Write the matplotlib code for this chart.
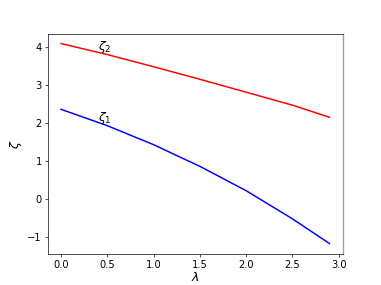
import matplotlib
matplotlib.use("Agg")
import matplotlib.pyplot as plt

lam = [0.0, 0.5, 1.0, 1.5, 2.0, 2.5, 2.9]
zeta1 = [2.35, 1.92, 1.42, 0.85, 0.21, -0.53, -1.18]
zeta2 = [4.08, 3.79, 3.47, 3.14, 2.80, 2.46, 2.14]

fig, ax = plt.subplots(figsize=(6.4, 4.8), dpi=381/6.4)
ax.plot(lam, zeta1, color="blue", lw=1.8)
ax.plot(lam, zeta2, color="red", lw=1.8)
ax.text(0.4, 2.07, r"$\zeta_1$", fontsize=15)
ax.text(0.4, 3.93, r"$\zeta_2$", fontsize=15)
ax.set_xlabel(r"$\lambda$", fontsize=15, labelpad=1)
ax.set_ylabel(r"$\zeta$", fontsize=15)
ax.tick_params(labelsize=12)
ax.spines["right"].set_color("#a0a0a0")
ax.spines["right"].set_linewidth(1.6)
fig.savefig("out.png", dpi=381/6.4)
